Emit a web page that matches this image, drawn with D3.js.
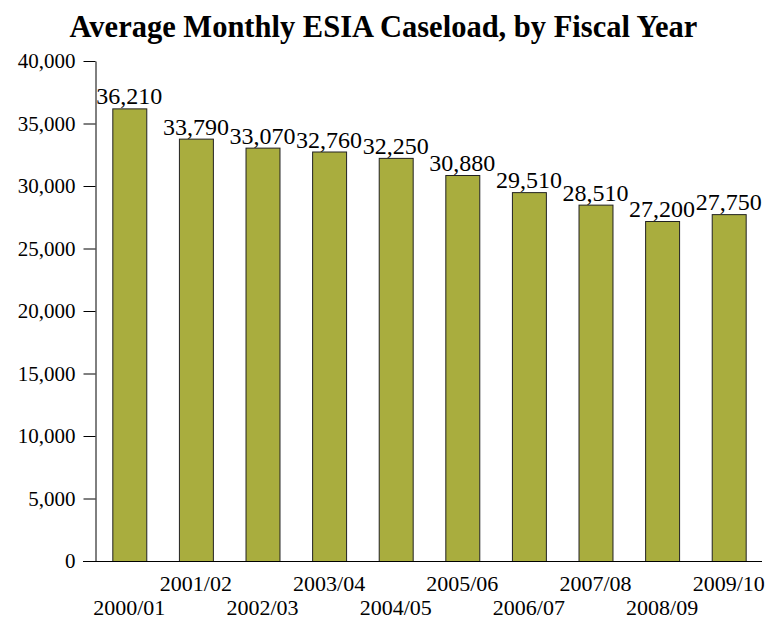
<!DOCTYPE html>
<html>
<head>
<meta charset="utf-8">
<script src="https://cdn.jsdelivr.net/npm/d3@7"></script>
<style>
  body { margin: 0; background: #fff; }
  svg text { font-family: "Liberation Serif", "Times New Roman", serif; fill: #000; }
</style>
</head>
<body>
<div id="chart"></div>
<script>
let years = ['2000/01', '2001/02', '2002/03', '2003/04', '2004/05', '2005/06', '2006/07', '2007/08', '2008/09', '2009/10'];
let caseload = [36210, 33790, 33070, 32760, 32250, 30880, 29510, 28510, 27200, 27750];
let yTicks = [0, 5000, 10000, 15000, 20000, 25000, 30000, 35000, 40000];

let width = 767, height = 620;
let margin = {top: 61, left: 96, right: 5, bottom: 59};

let svg = d3.select('#chart').append('svg').attr('width', width).attr('height', height);

svg.append('text')
  .attr('x', 383.5).attr('y', 37)
  .attr('text-anchor', 'middle')
  .style('font-size', '30.5px').style('font-weight', 'bold')
  .text('Average Monthly ESIA Caseload, by Fiscal Year');

let x = d3.scaleBand().domain(years).range([margin.left, width - margin.right]).paddingInner(0.49).paddingOuter(0.245);
let y = d3.scaleLinear().domain([0, 40000]).range([height - margin.bottom, margin.top]);

// bars
svg.selectAll('.bar').data(caseload).enter().append('rect')
  .attr('class', 'bar')
  .attr('x', (d, i) => x(years[i]) + 0.5)
  .attr('y', d => y(d) + 0.5)
  .attr('width', x.bandwidth())
  .attr('height', d => y(0) - y(d))
  .attr('fill', '#a9ad3e')
  .attr('stroke', '#222')
  .attr('stroke-width', 1);

// value labels
svg.selectAll('.val').data(caseload).enter().append('text')
  .attr('class', 'val')
  .attr('x', (d, i) => x(years[i]) + x.bandwidth() / 2)
  .attr('y', d => y(d) - 4)
  .attr('text-anchor', 'middle')
  .style('font-size', '24px')
  .text(d => d3.format(',')(d));

// y axis
let yAxis = svg.append('g')
  .attr('transform', 'translate(' + (margin.left - 0.5) + ',0)')
  .call(d3.axisLeft(y).tickValues(yTicks).tickSize(12).tickSizeOuter(0).tickPadding(8).tickFormat(d3.format(',')));
yAxis.selectAll('text').style('font-size', '21px').style('font-family', '"Liberation Serif", serif');
yAxis.selectAll('line, path').attr('stroke', '#000');

// x axis baseline
svg.append('line')
  .attr('x1', margin.left - 13).attr('x2', width - margin.right)
  .attr('y1', y(0) + 0.5).attr('y2', y(0) + 0.5)
  .attr('stroke', '#000');

// staggered category labels
svg.selectAll('.cat').data(years).enter().append('text')
  .attr('class', 'cat')
  .attr('x', d => x(d) + x.bandwidth() / 2)
  .attr('y', (d, i) => i % 2 == 1 ? 591 : 615)
  .attr('text-anchor', 'middle')
  .style('font-size', '22px')
  .text(d => d);
</script>
</body>
</html>
